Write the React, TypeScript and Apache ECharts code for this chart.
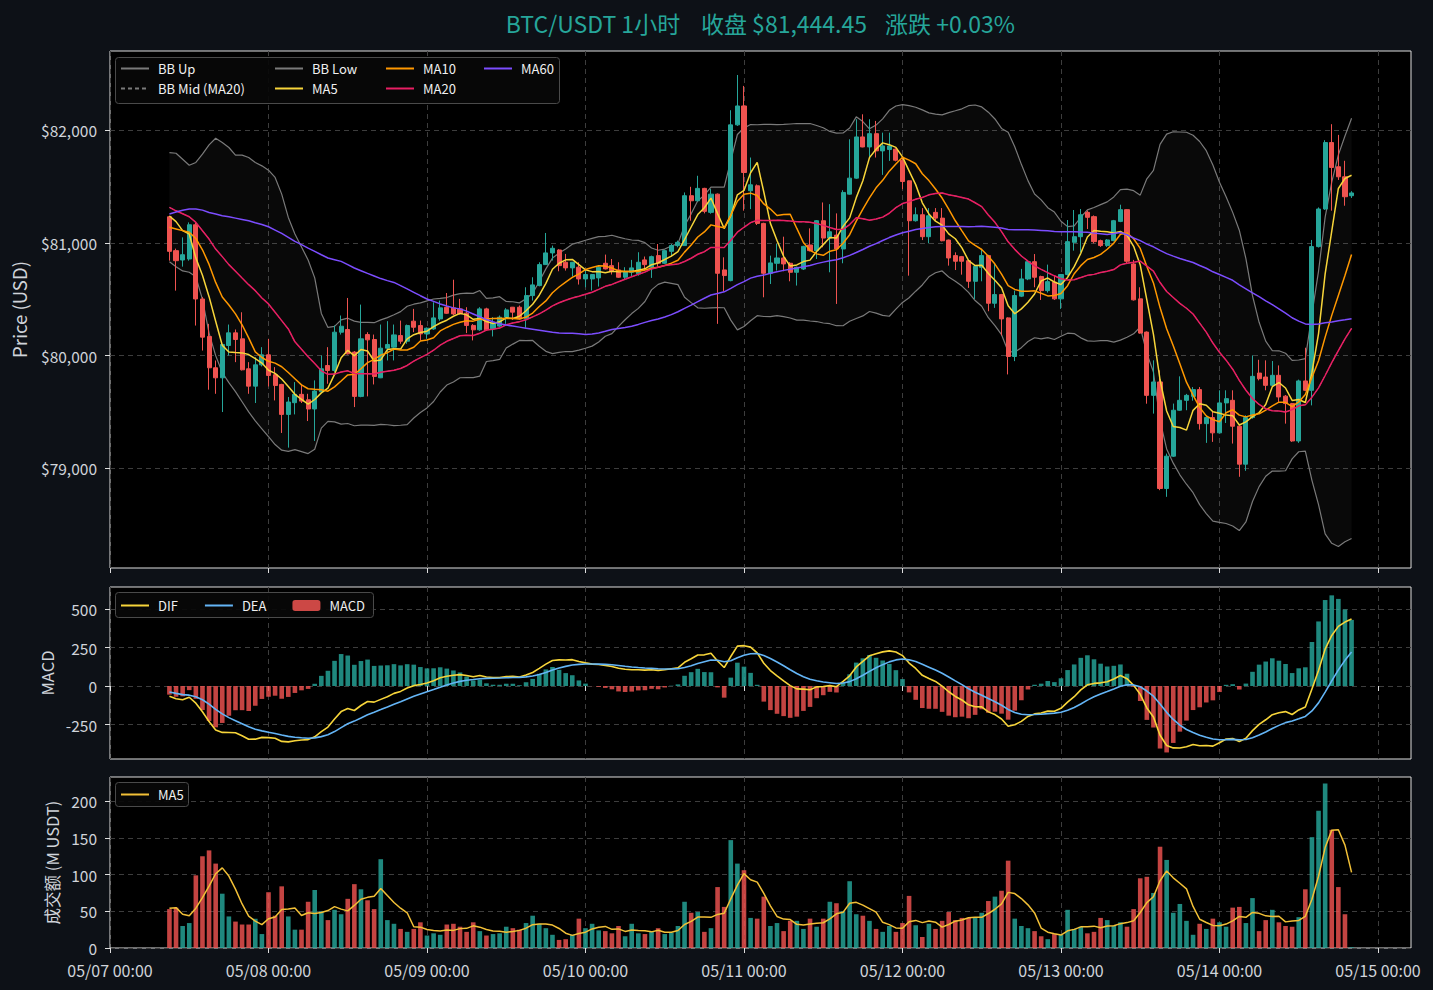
import React, { useEffect, useRef } from "react";
import * as echarts from "echarts";

// ---------- data (hourly candles, 05/07 09:00 → 05/14 20:00) ----------
const FIRST_HOUR = 9; // hours after 05/07 00:00
const AXIS_HOURS = 198; // 05/07 00:00 … 05/15 05:00

const opens = [
  81233, 80932, 80849, 80858, 81162, 80503, 80170, 79892, 79803, 80090,
  80202, 80149, 79883, 79729, 79918, 80007, 79830, 79744, 79478, 79582,
  79656, 79608, 79526, 79679, 79912, 79868, 80208, 80232, 80031, 79638,
  80187, 80143, 79803, 80066, 80075, 80178, 80128, 80306, 80267, 80193,
  80237, 80326, 80429, 80424, 80415, 80377, 80268, 80229, 80415, 80238,
  80262, 80341, 80430, 80430, 80327, 80533, 80622, 80808, 80912, 80938,
  80829, 80779, 80785, 80681, 80681, 80690, 80820, 80799, 80761, 80696,
  80740, 80726, 80850, 80785, 80888, 80820, 80926, 80977, 80977, 81420,
  81375, 81485, 81272, 81434, 80761, 80666, 82049, 82217, 81464, 81508,
  81174, 80731, 80820, 80867, 80820, 80740, 80769, 80982, 80932, 81198,
  81044, 81070, 80947, 81434, 81576, 81942, 81853, 81971, 81818, 81830,
  81833, 81735, 81552, 81198, 81251, 81056, 81272, 81221, 81026, 80888,
  80879, 80843, 80660, 80784, 80888, 80465, 80542, 80335, 79992, 80528,
  80681, 80834, 80702, 80577, 80652, 80504, 80720, 81006, 81056, 81272,
  81234, 81021, 80977, 81021, 81192, 81296, 80814, 80504, 80209, 79647,
  79766, 78820, 79107, 79515, 79603, 79638, 79698, 79396, 79450, 79314,
  79580, 79603, 79373, 79036, 79450, 79845, 79810, 79736, 79825, 79640,
  79574, 79242, 79775, 79692, 80968, 81302, 81892, 81677, 81588, 81420,
];
const highs = [
  81242, 80950, 81050, 81183, 81183, 80520, 80282, 79957, 80099, 80276,
  80232, 80385, 79942, 79986, 80075, 80149, 79898, 79750, 79632, 79765,
  79744, 79661, 79780, 80001, 80075, 80267, 80356, 80512, 80040, 80453,
  80208, 80187, 80276, 80306, 80276, 80311, 80276, 80415, 80311, 80250,
  80474, 80489, 80556, 80674, 80504, 80430, 80280, 80430, 80425, 80342,
  80356, 80421, 80432, 80445, 80607, 80696, 80829, 81089, 80977, 80945,
  80903, 80832, 80829, 80761, 80725, 80800, 80897, 80858, 80829, 80785,
  80850, 80918, 80880, 80888, 80991, 80940, 80991, 81021, 81449, 81499,
  81597, 81490, 81479, 81440, 80873, 82179, 82492, 82395, 81759, 81520,
  81180, 80888, 80991, 81056, 80830, 80790, 80975, 81130, 81204, 81360,
  81345, 81263, 81469, 81921, 82099, 82143, 82099, 82084, 81980, 81980,
  81840, 81759, 81555, 81316, 81310, 81310, 81310, 81310, 81030, 80917,
  80885, 80850, 80800, 80947, 80895, 80814, 80548, 80340, 80577, 80770,
  80840, 80902, 80710, 80808, 80711, 80725, 81204, 81293, 81302, 81287,
  81245, 81030, 81035, 81205, 81340, 81300, 80850, 80607, 80215, 79958,
  79869, 79130, 79574, 79816, 79660, 79721, 79721, 79470, 79500, 79692,
  79692, 79692, 79380, 79470, 80002, 79963, 79958, 79952, 79913, 79650,
  79580, 79787, 80070, 81027, 81316, 81913, 82055, 81960, 81730, 81460,
];
const lows = [
  80843, 80577, 80790, 80843, 80267, 80045, 79697, 79661, 79499, 80001,
  79942, 79868, 79661, 79579, 79904, 79726, 79602, 79313, 79183, 79478,
  79579, 79419, 79242, 79673, 79750, 79853, 80187, 80010, 79543, 79630,
  79638, 79744, 79800, 79957, 79957, 80105, 80105, 80208, 80134, 80149,
  80229, 80310, 80370, 80360, 80365, 80200, 80135, 80220, 80220, 80170,
  80255, 80282, 80318, 80320, 80247, 80489, 80615, 80805, 80844, 80749,
  80755, 80702, 80631, 80607, 80578, 80613, 80765, 80720, 80690, 80680,
  80705, 80710, 80755, 80690, 80790, 80815, 80880, 80962, 80977, 81198,
  81370, 81263, 81260, 80282, 80572, 80660, 82040, 81287, 81301, 81160,
  80518, 80636, 80755, 80749, 80660, 80622, 80760, 80925, 80858, 80962,
  80740, 80459, 80820, 81430, 81570, 81850, 81759, 81759, 81605, 81729,
  81725, 81478, 80710, 81190, 81026, 80997, 81198, 81015, 80799, 80760,
  80719, 80601, 80503, 80660, 80394, 80424, 80179, 79833, 79951, 80520,
  80670, 80607, 80494, 80560, 80495, 80415, 80710, 80932, 80918, 81124,
  80997, 80965, 80965, 81015, 81185, 80814, 80489, 80195, 79573, 79485,
  78805, 78746, 79100, 79510, 79515, 79600, 79343, 79225, 79234, 79310,
  79402, 79219, 78924, 78977, 79440, 79780, 79692, 79730, 79589, 79396,
  79234, 79225, 79685, 79558, 80960, 81295, 81287, 81560, 81331, 81400,
];
const closes = [
  80926, 80843, 80896, 81162, 80503, 80164, 79892, 79803, 80099, 80202,
  80143, 79874, 79729, 79918, 80007, 79824, 79735, 79478, 79588, 79656,
  79596, 79526, 79685, 79883, 79868, 80208, 80261, 80016, 79638, 80149,
  80140, 79815, 80066, 80099, 80184, 80128, 80267, 80252, 80193, 80243,
  80335, 80424, 80376, 80370, 80371, 80268, 80229, 80415, 80229, 80288,
  80341, 80406, 80386, 80327, 80533, 80628, 80808, 80912, 80953, 80799,
  80779, 80829, 80681, 80720, 80720, 80785, 80770, 80749, 80696, 80740,
  80779, 80829, 80808, 80879, 80820, 80932, 80977, 81006, 81420, 81375,
  81485, 81281, 81434, 80731, 80711, 82049, 82217, 81626, 81517, 81174,
  80731, 80823, 80867, 80814, 80740, 80784, 80970, 80932, 81198, 81044,
  81100, 80947, 81449, 81576, 81942, 81853, 81971, 81818, 81862, 81862,
  81735, 81546, 81198, 81251, 81056, 81242, 81221, 81020, 80867, 80838,
  80838, 80660, 80793, 80888, 80465, 80542, 80326, 79992, 80533, 80681,
  80834, 80696, 80577, 80657, 80504, 80720, 81012, 81056, 81251, 81228,
  81012, 80977, 81027, 81198, 81296, 80838, 80495, 80200, 79647, 79766,
  78820, 79107, 79515, 79603, 79647, 79698, 79396, 79450, 79314, 79580,
  79618, 79373, 79036, 79450, 79816, 79795, 79736, 79825, 79633, 79574,
  79242, 79775, 79692, 80968, 81302, 81892, 81671, 81588, 81411, 81444.45,
];
// turnover, million USDT
const volumes = [
  53, 55, 30, 34, 99, 125, 133, 115, 74, 43,
  36, 32, 32, 40, 19, 76, 44, 84, 43, 25,
  25, 63, 79, 50, 38, 52, 46, 67, 87, 80,
  65, 53, 121, 38, 33, 26, 22, 26, 35, 17,
  20, 18, 32, 33, 29, 22, 35, 23, 17, 19,
  20, 29, 27, 25, 34, 44, 33, 27, 18, 11,
  12, 18, 40, 27, 33, 24, 23, 20, 30, 16,
  33, 20, 19, 22, 27, 19, 21, 30, 63, 48,
  49, 22, 27, 83, 56, 147, 115, 106, 41, 40,
  70, 30, 34, 23, 37, 37, 26, 40, 29, 40,
  63, 61, 50, 91, 46, 44, 37, 26, 22, 30,
  22, 34, 71, 31, 15, 33, 26, 37, 49, 38,
  41, 41, 41, 48, 64, 70, 78, 119, 40, 30,
  27, 23, 16, 12, 19, 18, 52, 26, 29, 20,
  22, 41, 38, 30, 35, 29, 53, 95, 97, 75,
  138, 120, 48, 60, 37, 18, 33, 26, 40, 35,
  29, 55, 56, 34, 68, 23, 38, 52, 35, 30,
  29, 42, 80, 151, 187, 224, 161, 83, 46, 1,
];

// Indicator values read from the picture where the rolling window reaches
// before the first visible candle.
const ma5Head = [81240, 81190, 81110, 81080];
const ma10Head = [81140, 81125, 81110, 81095, 81040, 80940, 80810, 80650, 80520];
const ma20Head = [
  81316, 81286, 81260, 81233, 81183, 81109, 81035, 80946, 80879, 80808,
  80749, 80689, 80630, 80577, 80512, 80459, 80385, 80311, 80237,
];
const ma60Head = [
  81257, 81275, 81290, 81301, 81301, 81292, 81271, 81257, 81242, 81233,
  81221, 81209, 81197, 81180, 81165, 81144, 81115, 81085, 81050, 81014,
  80985, 80955, 80926, 80896, 80867, 80852, 80837, 80808, 80778, 80754,
  80730, 80707, 80684, 80666, 80650, 80621, 80592, 80562, 80532, 80503,
  80482, 80459, 80441, 80424, 80415, 80395, 80370, 80345, 80320, 80300,
  80282, 80271, 80262, 80253, 80244, 80235, 80226, 80217, 80208,
];
const bbUpHead = [
  81803, 81797, 81744, 81691, 81715, 81789, 81871, 81930, 81892, 81848,
  81780, 81780, 81759, 81715, 81685, 81647, 81582, 81434, 81227,
];
const bbLowHead = [
  80834, 80790, 80752, 80740, 80700, 80500, 80200, 80000, 79850, 79760,
  79680, 79590, 79500, 79420, 79350, 79280, 79210, 79160, 79150,
];
const volMa5Head = [54, 55, 46, 44];
const macdSeedEma12 = 81100;
const macdSeedEma26 = 81167;
const macdSeedDea = -39;

const priceTicks = [79000, 80000, 81000, 82000];
const macdTicks = [-250, 0, 250, 500];
const volTicks = [0, 50, 100, 150, 200];
const titleParts = ["BTC/USDT 1小时", "收盘 $81,444.45", "涨跌 +0.03%"];

// ---------- styles ----------
const UP = "#26a69a";
const DOWN = "#ef5350";
const FONT = '"Noto Sans CJK SC", "Noto Sans", sans-serif';
const TXT = "#d0d4da";
const GRID_LINE = { color: "#3d3d3d", type: [5, 4] as number[], width: 1 };

function rolling(src: number[], n: number, head: number[]): number[] {
  return src.map((_, i) => {
    if (i < n - 1) return head[i];
    let s = 0;
    for (let k = i - n + 1; k <= i; k++) s += src[k];
    return s / n;
  });
}
function rollingStd(src: number[], n: number): number[] {
  return src.map((_, i) => {
    if (i < n - 1) return NaN;
    let s = 0;
    for (let k = i - n + 1; k <= i; k++) s += src[k];
    const m = s / n;
    let v = 0;
    for (let k = i - n + 1; k <= i; k++) v += (src[k] - m) ** 2;
    return Math.sqrt(v / n);
  });
}

const categories = Array.from({ length: AXIS_HOURS }, (_, h) => {
  const d = 7 + Math.floor(h / 24);
  const hh = h % 24;
  return `05/${String(d).padStart(2, "0")} ${String(hh).padStart(2, "0")}:00`;
});
const isDay = (idx: number) => idx % 24 === 0;

function buildOption() {
  const xs = closes.map((_, i) => FIRST_HOUR + i);
  const ma5 = rolling(closes, 5, ma5Head);
  const ma10 = rolling(closes, 10, ma10Head);
  const ma20 = rolling(closes, 20, ma20Head);
  const ma60 = rolling(closes, 60, ma60Head);
  const sd20 = rollingStd(closes, 20);
  const bbUp = closes.map((_, i) => (i < 19 ? bbUpHead[i] : ma20[i] + 2 * sd20[i]));
  const bbLow = closes.map((_, i) => (i < 19 ? bbLowHead[i] : ma20[i] - 2 * sd20[i]));
  const volMa5 = rolling(volumes, 5, volMa5Head);

  const a12 = 2 / 13, a26 = 2 / 27, a9 = 2 / 10;
  let e12 = macdSeedEma12, e26 = macdSeedEma26, dea = macdSeedDea;
  const difArr: number[] = [], deaArr: number[] = [], hist: number[] = [];
  closes.forEach((c, i) => {
    if (i > 0) {
      e12 += a12 * (c - e12);
      e26 += a26 * (c - e26);
      const d = e12 - e26;
      dea += a9 * (d - dea);
    }
    const dif = e12 - e26;
    difArr.push(dif);
    deaArr.push(dea);
    hist.push(2 * (dif - dea));
  });

  const pts = (arr: number[]) => arr.map((v, i) => [xs[i], v]);

  const grids = [
    { left: 110, top: 51, width: 1301, height: 517 },
    { left: 110, top: 587, width: 1301, height: 172 },
    { left: 110, top: 777, width: 1301, height: 171 },
  ].map((g) => ({
    ...g,
    show: true,
    backgroundColor: "#000000",
    borderColor: "#dedede",
    borderWidth: 1,
  }));

  const xAxes = [0, 1, 2].map((gi) => ({
    type: "category",
    gridIndex: gi,
    data: categories,
    boundaryGap: false,
    axisLine: { show: false },
    axisTick: {
      show: true,
      interval: (idx: number) => isDay(idx),
      length: 5,
      lineStyle: { color: "#dedede" },
    },
    axisLabel: {
      show: gi === 2,
      interval: (idx: number) => isDay(idx),
      color: TXT,
      fontSize: 16,
      fontFamily: FONT,
      margin: 14,
    },
    splitLine: {
      show: true,
      interval: (idx: number) => isDay(idx),
      lineStyle: GRID_LINE,
    },
  }));

  const yCommon = (gi: number, min: number, max: number, ticks: number[], fmt: (v: number) => string, name: string, nameGap: number, nameSize: number) => ({
    type: "value",
    gridIndex: gi,
    min,
    max,
    axisLine: { show: false },
    axisTick: { show: true, length: 5, customValues: ticks, lineStyle: { color: "#dedede" } },
    axisLabel: { customValues: ticks, formatter: fmt, color: TXT, fontSize: 15.5, fontFamily: FONT, margin: 13 },
    splitLine: { show: true, lineStyle: GRID_LINE },
    name,
    nameLocation: "middle",
    nameGap,
    nameTextStyle: { color: TXT, fontSize: nameSize, fontFamily: FONT },
  });

  const yAxes = [
    yCommon(0, 78114, 82705, priceTicks, (v) => "$" + Math.round(v).toLocaleString("en-US"), "Price (USD)", 82, 18.5),
    yCommon(1, -474, 643, macdTicks, (v) => String(v), "MACD", 54, 16.5),
    yCommon(2, 0, 233, volTicks, (v) => String(v), "成交额 (M USDT)", 50, 16.5),
  ];

  const line = (name: string, data: number[], color: string, gi: number, width = 1.5, extra: any = {}) => ({
    name,
    type: "line",
    xAxisIndex: gi,
    yAxisIndex: gi,
    data: pts(data),
    symbol: "none",
    silent: true,
    lineStyle: { color, width, ...(extra.lineStyle || {}) },
    itemStyle: { color },
    z: extra.z ?? 3,
  });

  const legendText = { color: "#f0f0f0", fontSize: 13, fontFamily: FONT, padding: [0, 0, 0, 4] };
  const legendBase = {
    orient: "vertical",
    itemWidth: 28,
    itemHeight: 14,
    itemGap: 7,
    padding: 0,
    selectedMode: false,
    textStyle: legendText,
    itemStyle: { opacity: 0 },
    z: 6,
  };

  const series: any[] = [
    {
      name: "bbBase",
      type: "line",
      xAxisIndex: 0,
      yAxisIndex: 0,
      data: pts(bbLow),
      stack: "bb",
      symbol: "none",
      silent: true,
      lineStyle: { opacity: 0 },
      z: 1,
    },
    {
      name: "bbBand",
      type: "line",
      xAxisIndex: 0,
      yAxisIndex: 0,
      data: pts(bbUp.map((u, i) => u - bbLow[i])),
      stack: "bb",
      symbol: "none",
      silent: true,
      lineStyle: { opacity: 0 },
      areaStyle: { color: "rgba(255,255,255,0.05)" },
      z: 1,
    },
    line("BB Up", bbUp, "#7a7a7a", 0, 1.2, { z: 2 }),
    line("BB Low", bbLow, "#7a7a7a", 0, 1.2, { z: 2 }),
    line("BB Mid (MA20)", ma20, "#7a7a7a", 0, 1, { z: 2, lineStyle: { type: [4, 3] } }),
    {
      name: "K",
      type: "candlestick",
      xAxisIndex: 0,
      yAxisIndex: 0,
      data: closes.map((c, i) => [xs[i], opens[i], c, lows[i], highs[i]]),
      encode: { x: 0, y: [1, 2, 3, 4] },
      barWidth: 4.6,
      silent: true,
      itemStyle: { color: UP, color0: DOWN, borderColor: UP, borderColor0: DOWN, borderWidth: 1 },
      z: 2,
    },
    line("MA5", ma5, "#f7d53a", 0, 1.5),
    line("MA10", ma10, "#ff9800", 0, 1.5),
    line("MA20", ma20, "#e91e63", 0, 1.5),
    line("MA60", ma60, "#7c4dff", 0, 1.5),
    {
      name: "MACD",
      type: "bar",
      xAxisIndex: 1,
      yAxisIndex: 1,
      barWidth: 4.6,
      silent: true,
      itemStyle: { color: DOWN, opacity: 0.85 },
      data: hist.map((h, i) => ({ value: [xs[i], h], itemStyle: { color: h >= 0 ? UP : DOWN, opacity: 0.82 } })),
      z: 2,
    },
    line("DIF", difArr, "#f7d53a", 1, 1.6),
    line("DEA", deaArr, "#64b5f6", 1, 1.6),
    {
      name: "Volume",
      type: "bar",
      xAxisIndex: 2,
      yAxisIndex: 2,
      barWidth: 4.6,
      silent: true,
      data: volumes.map((v, i) => ({
        value: [xs[i], v],
        itemStyle: { color: closes[i] >= opens[i] ? UP : DOWN, opacity: 0.82 },
      })),
      z: 2,
    },
    line("Vol MA5", volMa5, "#f2c037", 2, 1.5),
  ];

  const titleCenters = [593, 784, 950];

  return {
    animation: false,
    backgroundColor: "#0d1117",
    textStyle: { fontFamily: FONT },
    grid: grids,
    xAxis: xAxes,
    yAxis: yAxes,
    legend: [
      { ...legendBase, data: ["BB Up", "BB Mid (MA20)"], left: 120, top: 62 },
      { ...legendBase, data: ["BB Low", "MA5"], left: 274, top: 62 },
      { ...legendBase, data: ["MA10", "MA20"], left: 385, top: 62 },
      { ...legendBase, data: ["MA60"], left: 483, top: 62 },
      {
        ...legendBase,
        orient: "horizontal",
        itemStyle: {},
        data: [
          { name: "DIF", itemStyle: { opacity: 0 } },
          { name: "DEA", itemStyle: { opacity: 0 } },
          { name: "MACD" },
        ],
        left: 120,
        top: 599,
        itemGap: 26,
        itemHeight: 11,
      },
      {
        ...legendBase,
        orient: "horizontal",
        data: ["Vol MA5"],
        formatter: () => "MA5",
        left: 120,
        top: 788,
      },
    ],
    graphic: [
      ...titleParts.map((t, k) => ({
        type: "text",
        x: titleCenters[k],
        y: 23,
        style: {
          text: t,
          fill: UP,
          fontSize: 23,
          fontFamily: FONT,
          align: "center",
          verticalAlign: "middle",
        },
        z: 10,
      })),
      {
        type: "rect",
        shape: { x: 115.5, y: 57.5, width: 444, height: 46, r: 3 },
        style: { fill: "rgba(8,8,8,0.92)", stroke: "#4a4a4a", lineWidth: 1 },
        z: 5,
      },
      {
        type: "rect",
        shape: { x: 115.5, y: 592.5, width: 258, height: 25, r: 3 },
        style: { fill: "rgba(8,8,8,0.92)", stroke: "#4a4a4a", lineWidth: 1 },
        z: 5,
      },
      {
        type: "rect",
        shape: { x: 115.5, y: 782.5, width: 73, height: 24, r: 3 },
        style: { fill: "rgba(8,8,8,0.92)", stroke: "#4a4a4a", lineWidth: 1 },
        z: 5,
      },
    ],
    series,
  };
}

export default function App() {
  const ref = useRef<HTMLDivElement>(null);
  useEffect(() => {
    if (!ref.current) return;
    const chart = echarts.init(ref.current, undefined, { renderer: "svg" });
    chart.setOption(buildOption() as any);
    return () => chart.dispose();
  }, []);
  return (
    <div
      ref={ref}
      style={{ position: "fixed", left: 0, top: 0, width: 1433, height: 990, background: "#0d1117" }}
    />
  );
}
